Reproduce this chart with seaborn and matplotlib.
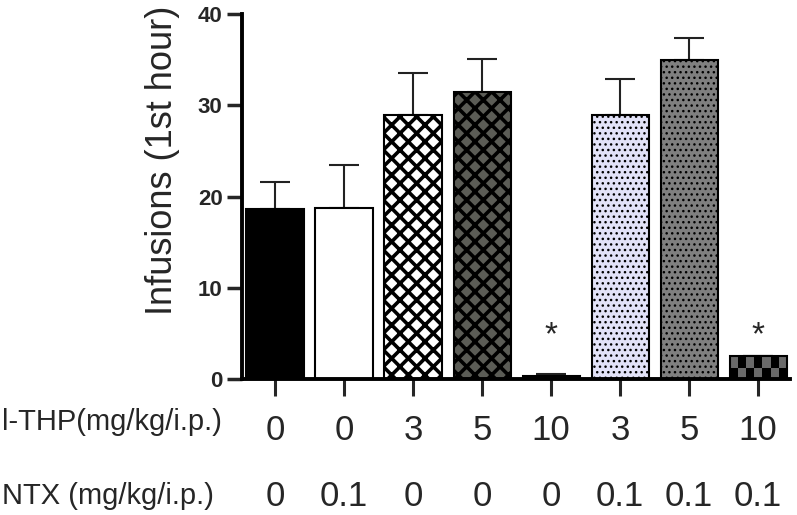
import matplotlib
matplotlib.use("Agg")
import matplotlib.pyplot as plt
import matplotlib.transforms as mtransforms
import numpy as np
import pandas as pd
import seaborn as sns

# values
groups = ["g1", "g2", "g3", "g4", "g5", "g6", "g7", "g8"]
infusions = [18.6, 18.7, 28.9, 31.5, 0.3, 28.9, 35.0, 2.5]
sem = [3.0, 4.8, 4.6, 3.6, 0.3, 4.0, 2.4, 0.0]
thp_dose = ["0", "0", "3", "5", "10", "3", "5", "10"]
ntx_dose = ["0", "0.1", "0", "0", "0", "0.1", "0.1", "0.1"]
signif = ["", "", "", "", "*", "", "", "*"]

face_colors = ["#000000", "#ffffff", "#ffffff", "#5b5c56", "#3a3a3a",
               "#e2e2f8", "#7f7f7f", "#6a6a6a"]
hatches = ["", "", "xx", "xx", "++", "...", "...", ""]
hatch_lw = [1, 1, 2.6, 2.6, 2.5, 1.0, 1.0, 1]

sns.set_style("white")
plt.rcParams["font.family"] = ["Liberation Sans", "DejaVu Sans"]

df = pd.DataFrame({"group": groups, "infusions": infusions})

fig = plt.figure(figsize=(7.97, 5.15), dpi=100)
ax = fig.add_axes([0.3036, 0.264, 0.6876, 0.7087])

sns.barplot(data=df, x="group", y="infusions", ax=ax, width=0.83,
            errorbar=None, color="white", edgecolor="black", linewidth=1.5,
            zorder=2)

for i, p in enumerate(ax.patches):
    p.set_facecolor(face_colors[i])
    p.set_hatch(hatches[i])
    if hasattr(p, "set_hatch_linewidth"):
        p.set_hatch_linewidth(hatch_lw[i])

# checkerboard for the last bar
last = ax.patches[7]
x0, w, h = last.get_x(), last.get_width(), last.get_height()
n = 7
for r in range(2):
    for c in range(n):
        if (r + c) % 2 == 0:
            ax.add_patch(plt.Rectangle((x0 + c * w / n, r * h / 2), w / n, h / 2,
                                       facecolor="black", edgecolor="none", zorder=3))

xpos = np.arange(len(groups))
ax.errorbar(xpos, infusions, yerr=[np.zeros(len(sem)), sem], fmt="none",
            ecolor="#222222", elinewidth=1.5, capsize=10.5, capthick=1.5, zorder=1)

for i, s in enumerate(signif):
    if s:
        ax.text(xpos[i], 4.7, s, ha="center", va="center", fontsize=24)

ax.set_xlim(-0.48, 7.46)
ax.set_ylim(0, 40)
ax.set_yticks([0, 10, 20, 30, 40])
ax.set_yticklabels(["0", "10", "20", "30", "40"], fontsize=16, fontweight="bold")
ax.set_xticks(xpos)
ax.set_xticklabels([])
ax.set_xlabel("")
ax.set_ylabel("Infusions (1st hour)", fontsize=26)
ax.yaxis.set_label_coords(-0.113, 0.6)

sns.despine(ax=ax)
for side in ["left", "bottom"]:
    ax.spines[side].set_linewidth(2.8)
    ax.spines[side].set_color("black")
    ax.spines[side].set_zorder(4)
ax.tick_params(axis="y", direction="out", length=11, width=2.5, pad=3, left=True)
ax.tick_params(axis="x", direction="out", length=12, width=2.2, bottom=True)

trans = mtransforms.blended_transform_factory(ax.transData, ax.transAxes)
for i in range(len(groups)):
    ax.text(xpos[i], -0.167, thp_dose[i], transform=trans, ha="center",
            va="baseline", fontsize=25)
    ax.text(xpos[i], -0.348, ntx_dose[i], transform=trans, ha="center",
            va="baseline", fontsize=25)

fig.text(0.003, 0.165, "l-THP(mg/kg/i.p.)", ha="left", va="baseline",
         fontsize=21)
fig.text(0.003, 0.022, "NTX (mg/kg/i.p.)", ha="left", va="baseline",
         fontsize=21)

fig.savefig("out.png", dpi=100)
